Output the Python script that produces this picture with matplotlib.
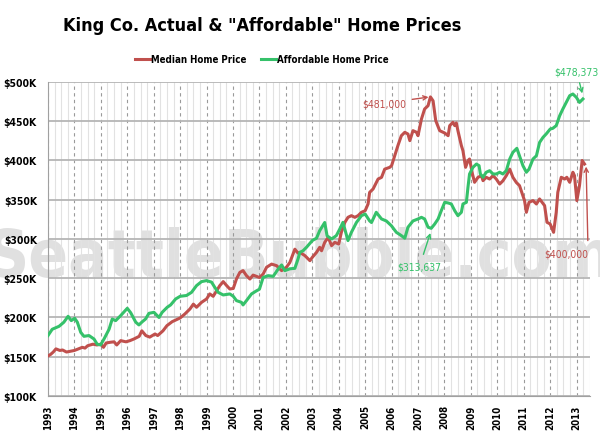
import matplotlib
matplotlib.use("Agg")
import matplotlib.pyplot as plt
from matplotlib.ticker import MultipleLocator, FuncFormatter

plt.rcParams['font.family'] = ['DejaVu Sans']
plt.rcParams['font.stretch'] = 'condensed'

# median sale price, King Co. ($K)
median_t = [1993.00, 1993.10, 1993.20, 1993.30, 1993.45, 1993.55, 1993.70, 1993.85,
            1994.00, 1994.15, 1994.30, 1994.40, 1994.50, 1994.70, 1994.85, 1995.00,
            1995.10, 1995.20, 1995.35, 1995.50, 1995.60, 1995.75, 1995.95, 1996.10,
            1996.25, 1996.45, 1996.55, 1996.70, 1996.85, 1997.05, 1997.15, 1997.35,
            1997.50, 1997.70, 1998.00, 1998.18, 1998.37, 1998.50, 1998.62, 1998.81,
            1999.00, 1999.12, 1999.25, 1999.38, 1999.50, 1999.63, 1999.76, 1999.88,
            2000.01, 2000.13, 2000.26, 2000.38, 2000.51, 2000.64, 2000.76, 2001.00,
            2001.14, 2001.27, 2001.46, 2001.65, 2001.84, 2002.02, 2002.15, 2002.34,
            2002.46, 2002.53, 2002.72, 2002.91, 2003.00, 2003.16, 2003.28, 2003.35,
            2003.47, 2003.60, 2003.73, 2003.85, 2004.00, 2004.10, 2004.23, 2004.35,
            2004.48, 2004.61, 2004.73, 2004.86, 2005.00, 2005.11, 2005.17, 2005.30,
            2005.49, 2005.62, 2005.74, 2005.93, 2006.00, 2006.12, 2006.24, 2006.37,
            2006.50, 2006.62, 2006.69, 2006.81, 2006.94, 2007.00, 2007.13, 2007.25,
            2007.38, 2007.47, 2007.57, 2007.67, 2007.82, 2008.01, 2008.14, 2008.20,
            2008.32, 2008.39, 2008.45, 2008.51, 2008.64, 2008.70, 2008.80, 2008.89,
            2008.95, 2009.06, 2009.14, 2009.27, 2009.40, 2009.46, 2009.58, 2009.71,
            2009.84, 2009.96, 2010.09, 2010.21, 2010.34, 2010.47, 2010.59, 2010.72,
            2010.84, 2011.03, 2011.10, 2011.20, 2011.35, 2011.48, 2011.60, 2011.79,
            2011.88, 2012.00, 2012.13, 2012.23, 2012.29, 2012.42, 2012.55, 2012.63,
            2012.74, 2012.86, 2012.92, 2013.01, 2013.11, 2013.21, 2013.30]
median_v = [151, 153, 156, 160, 158, 158.6, 156, 157,
            158, 160, 162, 161, 164, 166, 165, 166,
            162, 167.5, 168.4, 169, 165, 170.5, 169, 170.5,
            172.6, 176, 183, 177, 175, 179, 177, 183,
            189.6, 194.7, 199.4, 204.5, 210.8, 217, 213, 219.3,
            223.6, 230, 227, 234, 240.6, 245.7, 240.6, 236.3,
            237, 249, 257.5, 259.7, 253.3, 249, 254, 251,
            255.4, 264, 268, 266, 259.7, 264, 270, 287,
            282, 283, 278.8, 272.4, 276.6, 283, 289.4, 285,
            295.7, 302, 291.5, 295.7, 293.6, 308.5, 321, 327.6,
            329.7, 327.6, 329.7, 334, 336, 344.6, 359.4, 363.7,
            376.4, 378.5, 389, 391.3, 393.4, 406, 419, 431.6,
            435.9, 433.7, 425.3, 438, 436, 431.6, 452.8, 465.6,
            469.8, 481, 476, 450.8, 438, 435, 431.6, 444.4,
            448.6, 444.4, 447.8, 438, 419, 412.5, 391.3, 399.8,
            401.9, 382.8, 372.2, 378.6, 380.7, 374.3, 378.6, 376.4,
            380.7, 376.4, 370, 374, 380.7, 389, 378.6, 372,
            368, 349, 334, 346.7, 348.9, 344.6, 351, 342.5,
            321.3, 319.1, 308.5, 334, 359.5, 378.6, 376.4, 378.6,
            372.2, 385, 380.7, 348.9, 368, 400, 395.5]

# "affordable" price ($K)
afford_t = [1993.00, 1993.16, 1993.42, 1993.60, 1993.76, 1993.88, 1994.01, 1994.11,
            1994.24, 1994.36, 1994.55, 1994.74, 1994.86, 1994.99, 1995.12, 1995.31,
            1995.43, 1995.56, 1995.75, 1996.00, 1996.13, 1996.32, 1996.44, 1996.57,
            1996.69, 1996.82, 1997.01, 1997.20, 1997.32, 1997.51, 1997.64, 1997.83,
            1998.00, 1998.24, 1998.43, 1998.62, 1998.81, 1999.00, 1999.19, 1999.31,
            1999.44, 1999.63, 1999.88, 2000.01, 2000.13, 2000.32, 2000.38, 2000.51,
            2000.70, 2000.89, 2001.00, 2001.14, 2001.33, 2001.52, 2001.71, 2001.84,
            2001.96, 2002.15, 2002.34, 2002.46, 2002.53, 2002.65, 2002.78, 2003.00,
            2003.16, 2003.28, 2003.47, 2003.56, 2003.73, 2003.91, 2004.04, 2004.16,
            2004.35, 2004.48, 2004.67, 2004.86, 2005.00, 2005.17, 2005.24, 2005.42,
            2005.62, 2005.80, 2005.99, 2006.18, 2006.37, 2006.50, 2006.62, 2006.81,
            2007.00, 2007.13, 2007.25, 2007.38, 2007.50, 2007.63, 2007.76, 2007.88,
            2008.01, 2008.14, 2008.26, 2008.39, 2008.51, 2008.64, 2008.70, 2008.83,
            2008.89, 2008.95, 2009.08, 2009.21, 2009.31, 2009.36, 2009.46, 2009.58,
            2009.71, 2009.84, 2009.96, 2010.09, 2010.21, 2010.34, 2010.47, 2010.59,
            2010.74, 2010.84, 2010.97, 2011.10, 2011.20, 2011.35, 2011.48, 2011.60,
            2011.73, 2011.85, 2012.00, 2012.10, 2012.23, 2012.36, 2012.48, 2012.61,
            2012.74, 2012.86, 2012.99, 2013.11, 2013.24]
afford_v = [177, 185, 188.8, 194, 201.5, 196, 199, 194,
            181, 176, 177, 172.6, 166, 165, 172.6, 185,
            198, 196, 202.4, 211.7, 206, 194, 190.5, 194.7,
            198, 205.3, 206.6, 200, 206.6, 213, 216, 223.6,
            227, 228, 232, 240.6, 245.7, 247, 245, 238.4,
            232, 228.7, 230, 227, 221.5, 219.3, 216, 221.5,
            230, 234, 236, 251, 253.3, 252.4, 261.8, 266.9,
            259.7, 262, 262.6, 274.5, 283, 285, 289.4, 298,
            301, 310.6, 321, 304, 300, 304.3, 312.7, 321.2,
            298, 308.5, 321, 329.7, 331.8, 323, 321, 334,
            325.5, 323, 317, 308.5, 304.3, 301, 315, 323,
            325.5, 327.6, 325.5, 315, 313.6, 319, 325.5, 336,
            346.7, 345.9, 344.6, 336, 329.7, 334, 344.6, 346.7,
            365.8, 382.8, 391.3, 395.5, 393.4, 382.8, 378.6, 385,
            387, 382.8, 382.8, 385, 382.8, 387, 401.9, 410.4,
            415.5, 406, 393.4, 385, 389, 401.9, 406, 423,
            429.5, 433.8, 440, 441, 444.4, 457, 465.6, 474,
            482.6, 484.7, 480.5, 474, 478.4]

red = '#c0504d'
green = '#35c16a'

fig = plt.figure(figsize=(6, 4.35), dpi=100)
ax = fig.add_axes([0.08, 0.0874, 0.903, 0.7218])

ax.plot(median_t, median_v, color=red, lw=2.2, label='Median Home Price', zorder=3)
ax.plot(afford_t, afford_v, color=green, lw=2.2, label='Affordable Home Price', zorder=3)

ax.set_xlim(1993, 2013.5)
ax.set_ylim(100, 500)
ax.xaxis.set_major_locator(MultipleLocator(1))
ax.xaxis.set_minor_locator(MultipleLocator(0.25))
ax.yaxis.set_major_locator(MultipleLocator(50))
ax.yaxis.set_major_formatter(FuncFormatter(lambda v, p: '$%dK' % v))
ax.xaxis.set_major_formatter(FuncFormatter(lambda v, p: '%d' % v))

ax.set_axisbelow(True)
ax.grid(which='minor', axis='x', color='#e2e2e2', lw=0.8)
ax.grid(which='major', axis='x', color='#9a9a9a', lw=0.8, ls=(0, (3, 3)))
ax.grid(which='major', axis='y', color='#b5b5b5', lw=1.3)

for s in ['top', 'right']:
    ax.spines[s].set_visible(False)
ax.spines['left'].set_color('#a0a0a0')
ax.spines['bottom'].set_color('#a0a0a0')
ax.tick_params(which='both', length=0)
ax.tick_params(axis='y', pad=8, labelsize=7.5)
ax.tick_params(axis='x', pad=6, labelsize=7, rotation=90)
for lbl in ax.get_xticklabels() + ax.get_yticklabels():
    lbl.set_fontweight('bold')

# watermark
ax.text(0.5, 0.363, 'SeattleBubble.com', transform=fig.transFigure,
        ha='center', va='baseline', fontsize=47, fontweight='bold',
        color='#e0e0e0', zorder=0.4, clip_on=False)

# annotations
ax.annotate('$481,000', xy=(2007.45, 481), xytext=(2005.74, 473),
            color=red, fontsize=7.5, ha='center', va='center',
            arrowprops=dict(arrowstyle='->', color=red, lw=1, shrinkA=2, shrinkB=1))
ax.annotate('$313,637', xy=(2007.5, 311), xytext=(2007.06, 265.5),
            color=green, fontsize=7.5, ha='center', va='center',
            arrowprops=dict(arrowstyle='->', color=green, lw=1, shrinkA=3, shrinkB=2))
ax.annotate('$478,373', xy=(2013.24, 482), xytext=(2013.0, 514),
            color=green, fontsize=7.5, ha='center', va='center', annotation_clip=False,
            arrowprops=dict(arrowstyle='->', color=green, lw=1, shrinkA=3, shrinkB=2))
ax.annotate('$400,000', xy=(2013.36, 394), xytext=(2012.6, 281),
            color=red, fontsize=7.5, ha='center', va='center', annotation_clip=False,
            arrowprops=dict(arrowstyle='->', color=red, lw=1, shrinkA=4, shrinkB=1,
                            relpos=(1.0, 1.0)))

fig.text(0.437, 0.941, 'King Co. Actual & "Affordable" Home Prices',
         ha='center', va='center', fontsize=13, fontweight='bold')
fig.legend(loc='center', bbox_to_anchor=(0.437, 0.862), ncol=2, frameon=False,
           handlelength=1.5, handletextpad=0.15, columnspacing=1.5,
           prop=dict(size=7, weight='bold'))

fig.savefig('out.png', dpi=100)
